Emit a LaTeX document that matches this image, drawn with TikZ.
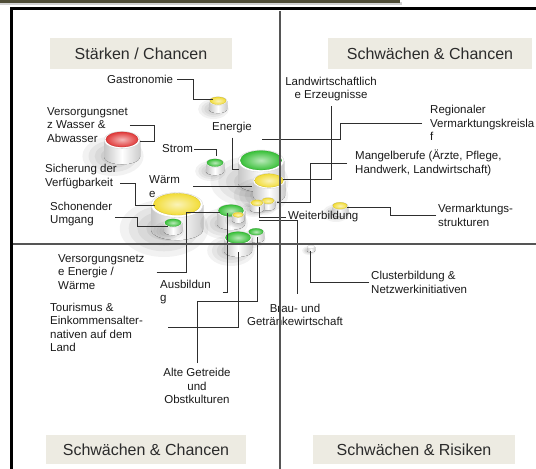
\documentclass[tikz,border=0pt]{standalone}
\usepackage{fontspec}
\setmainfont{Liberation Sans}
\definecolor{pillgreen}{HTML}{38C038}
\definecolor{pillyellow}{HTML}{F2DC36}
\definecolor{pillred}{HTML}{E03838}
\definecolor{beige}{HTML}{EDEBE2}
\definecolor{titletext}{HTML}{2B2B2B}
\definecolor{labeltext}{HTML}{1A1A1A}
\definecolor{leadgray}{HTML}{2E2E2E}
\definecolor{divgray}{HTML}{555555}
\definecolor{topbar}{HTML}{4E4C36}
\tikzset{
  lbl/.style={font=\fontsize{11.5}{13.5}\selectfont, text=labeltext, inner sep=0pt, align=left},
  ttl/.style={fill=beige, inner sep=0pt, minimum height=31pt, font=\fontsize{16}{19}\selectfont, text=titletext},
  leader/.style={draw=leadgray, line width=0.9pt},
  divider/.style={draw=divgray, line width=1.3pt},
}
% pill: position, half width, colour of the top
\newcommand{\pill}[3]{%
  \begin{scope}[shift={#1}]
    \foreach \s in {1,0.8,0.6,0.4}
      \fill[black, opacity=0.05] (-0.5*#2,0.9*#2) ellipse [x radius=\s*1.7*#2pt, y radius=\s*1.1*#2pt];
    \fill[left color=gray!45, right color=gray!40, middle color=white]
      (-#2,0) -- (-#2,0.95*#2) arc [start angle=180, end angle=360, x radius=#2pt, y radius=0.4*#2pt] -- (#2,0) -- cycle;
    \fill[white, draw=gray!35, line width=0.3pt] (0,0) ellipse [x radius=#2pt, y radius=0.48*#2pt];
    \shadedraw[inner color=#3!35!white, outer color=#3, draw=#3!80!black, line width=0.2pt]
      (0,-0.03*#2) ellipse [x radius=0.9*#2pt, y radius=0.42*#2pt];
  \end{scope}}

\begin{document}
\begin{tikzpicture}[x=1pt, y=-1pt]
  \useasboundingbox (0,0) rectangle (536,469);
  \fill[white] (0,0) rectangle (536,469);

  % top bar and frame
  \fill[gray!35] (0,2) rectangle (402,5);
  \fill[topbar] (0,0) rectangle (400,3);
  \draw[black, line width=2.6pt, line join=miter] (11.5,469) -- (11.5,8.3) -- (536,8.3);

  % pills, back to front
  \pill{(218,101)}{9}{pillyellow}
  \pill{(122,140)}{18}{pillred}
  \pill{(261,161)}{23}{pillgreen}
  \pill{(215,163)}{9}{pillgreen}
  \pill{(269,181)}{16}{pillyellow}
  \pill{(268,201)}{7}{pillyellow}
  \pill{(257,203)}{7}{pillyellow}
  \pill{(340,206)}{8}{pillyellow}
  \pill{(177,205)}{26}{pillyellow}
  \pill{(231,211)}{14}{pillgreen}
  \pill{(238,215)}{6}{pillyellow}
  \pill{(173,223)}{9}{pillgreen}
  \pill{(256,232)}{8}{pillgreen}
  \pill{(238,238)}{14}{pillgreen}
  \pill{(311,247)}{4}{white}

  % leader ends on the pills
  \coordinate (eGastro) at (213,99);
  \coordinate (eWasser) at (140,141);
  \coordinate (eStrom) at (216,156);
  \coordinate (eEnergie) at (239,169);
  \coordinate (eWaerme) at (252,186);
  \coordinate (eSicher) at (155,205);
  \coordinate (eSchon) at (168,226);
  \coordinate (eNetze) at (220,212);
  \coordinate (eAusb) at (227,213);
  \coordinate (eTour) at (238,252);
  \coordinate (eAlte) at (257,237);
  \coordinate (eBrau) at (259,220);
  \coordinate (eWeiter) at (259,207);
  \coordinate (eCluster) at (310,251);
  \coordinate (eVerm) at (347,207);
  \coordinate (eMangel) at (277,202);
  \coordinate (eRegion) at (262,139);
  \coordinate (eLand) at (283,179);

  % labels
  \node[lbl, anchor=west] (tGastro) at (107,79) {Gastronomie};
  \node[lbl, anchor=west] (tWasser) at (47,125) {Versorgungsnet\\z Wasser \&\\Abwasser};
  \node[lbl, anchor=west] (tStrom) at (162,149) {Strom};
  \node[lbl, anchor=west] (tEnergie) at (212,128) {Energie};
  \node[lbl, anchor=west] (tWaerme) at (149,186.5) {Wärm\\e};
  \node[lbl, anchor=west] (tSicher) at (45,176.5) {Sicherung der\\Verfügbarkeit};
  \node[lbl, anchor=west] (tSchon) at (50,214) {Schonender\\Umgang};
  \node[lbl, anchor=west] (tNetze) at (58,272) {Versorgungsnetz\\e Energie /\\Wärme};
  \node[lbl, anchor=west] (tAusb) at (160,292) {Ausbildun\\g};
  \node[lbl, anchor=west] (tTour) at (50,327.5) {Tourismus \&\\Einkommensalter-\\nativen auf dem\\Land};
  \node[lbl, align=center] (tAlte) at (197,386) {Alte Getreide\\und\\Obstkulturen};
  \node[lbl, align=center] (tBrau) at (295,315) {Brau- und\\Getränkewirtschaft};
  \node[lbl, anchor=west] (tWeiter) at (288,217) {Weiterbildung};
  \node[lbl, anchor=west] (tCluster) at (371,282.5) {Clusterbildung \&\\Netzwerkinitiativen};
  \node[lbl, anchor=west] (tVerm) at (438,215.5) {Vermarktungs-\\strukturen};
  \node[lbl, anchor=west] (tMangel) at (355,163) {Mangelberufe (Ärzte, Pflege,\\Handwerk, Landwirtschaft)};
  \node[lbl, anchor=west] (tRegion) at (430,123) {Regionaler\\Vermarktungskreisla\\f};
  \node[lbl, align=center] (tLand) at (331,89) {Landwirtschaftlich\\e Erzeugnisse};

  % leaders
  \draw[leader] ([xshift=4pt]tGastro.east) -- ++(16,0) |- (eGastro);
  \draw[leader] ([xshift=2pt]tWasser.east) -- ++(24,0) |- (eWasser);
  \draw[leader] ([xshift=1pt]tStrom.east) -| (eStrom);
  \draw[leader] ([yshift=-4pt]tEnergie.south) |- (eEnergie);
  \draw[leader] ([xshift=13pt]tWaerme.east) -- (tWaerme.east -| eWaerme);
  \draw[leader] ([xshift=3pt,yshift=-6.5pt]tSicher.east) -- ++(15,0) |- (eSicher);
  \draw[leader] ([xshift=3pt,yshift=-3pt]tSchon.east) -- ++(22,0) |- (eSchon);
  \draw[leader] ([xshift=12pt]tNetze.east) -- ++(30,0) |- (eNetze);
  \draw[leader] ([xshift=12pt]tAusb.east) -| (eAusb);
  \draw[leader] ([xshift=25pt]tTour.east) -| (eTour);
  \draw[leader] ([yshift=5pt]tAlte.north) -- ++(0,-62) -| (eAlte);
  \draw[leader] ([xshift=2pt,yshift=10pt]tBrau.north) |- (eBrau);
  \draw[leader] ([xshift=-2pt]tWeiter.west) -| (eWeiter);
  \draw[leader] ([xshift=-2pt]tCluster.west) -| (eCluster);
  \draw[leader] ([xshift=-2pt]tVerm.west) -- ++(-46,0) |- (eVerm);
  \draw[leader] ([xshift=-8pt]tMangel.west) -- ++(-37,0) |- (eMangel);
  \draw[leader] ([xshift=-8pt]tRegion.west) -- ++(-82,0) |- (eRegion);
  \draw[leader] ([yshift=-5pt]tLand.south) |- (eLand);

  % quadrant dividers
  \draw[divider] (280,11) -- (280,469);
  \draw[divider] (13,244) -- (536,244);

  % quadrant titles
  \node[ttl, minimum width=182pt] (qSC) at (141,53.5) {Stärken / Chancen};
  \node[ttl, minimum width=204pt] (qWC) at (430,53.5) {Schwächen \& Chancen};
  \node[ttl, minimum width=200pt, minimum height=29pt] (qWCb) at (146,449.5) {Schwächen \& Chancen};
  \node[ttl, minimum width=202pt, minimum height=29pt] (qWR) at (414,449.5) {Schwächen \& Risiken};
\end{tikzpicture}
\end{document}
